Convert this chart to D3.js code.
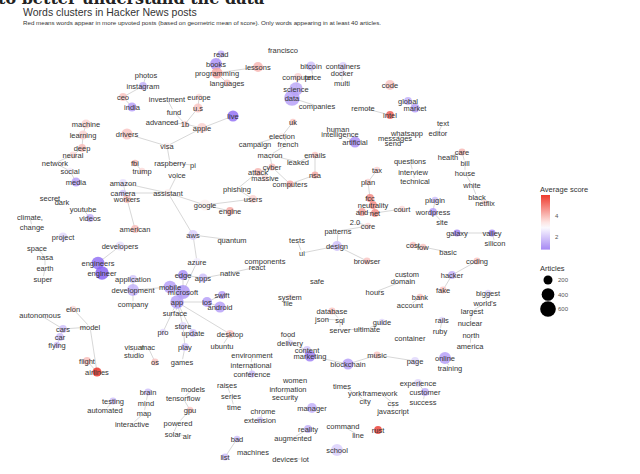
<!DOCTYPE html>
<html>
<head>
<meta charset="utf-8">
<script src="https://cdn.jsdelivr.net/npm/d3@7"></script>
<style>
  body { margin: 0; background: #fff; }
  svg { display: block; }
</style>
</head>
<body>
<div id="chart"></div>
<script>
// Configuration
const width = 640;
const height = 474;

// Word nodes: [word, layout x, layout y, average score, articles]
const nodes = [
  ["read",221,54,2.0,120], ["books",216,64,1.6,350], ["programming",217,73,4.2,300],
  ["lessons",258,67,4.0,250], ["languages",227,83,3.8,120], ["francisco",283,50,3.0,100],
  ["computer",298,77,3.6,150], ["science",296,89,1.9,450], ["data",292,98,1.8,600],
  ["bitcoin",311,66,2.2,200], ["price",313,77,3.0,100], ["containers",343,66,2.4,150],
  ["docker",342,73,2.7,100], ["multi",342,83,3.0,90], ["companies",317,106,3.0,120],
  ["code",390,85,3.8,250], ["remote",363,108,3.0,100], ["intel",390,115,5.2,150],
  ["global",408,101,2.0,150], ["market",415,108,1.8,200], ["uk",293,122,3.8,100],
  ["human",338,129,3.0,100], ["intelligence",340,134,3.0,100], ["artificial",355,142,1.6,300],
  ["whatsapp",407,133,3.0,100], ["messages",395,138,3.0,100], ["send",393,143,3.0,90],
  ["text",443,123,3.0,90], ["editor",438,133,3.0,90],
  ["photos",146,75,3.0,100], ["instagram",143,86,2.0,150], ["ceo",123,97,3.8,150],
  ["india",132,107,1.8,200], ["investment",167,99,3.0,100], ["europe",199,97,3.5,100],
  ["u.s",198,108,3.8,200], ["fund",174,112,3.0,100], ["advanced",162,122,3.0,90],
  ["1b",185,124,3.6,100], ["apple",202,128,3.6,250], ["live",233,116,1.2,300],
  ["drivers",127,134,3.8,300], ["visa",167,146,3.2,100],
  ["machine",86,124,3.6,200], ["learning",83,135,3.6,200], ["deep",82,148,3.9,150],
  ["neural",73,155,3.5,120], ["network",55,163,3.0,100], ["social",70,171,2.8,100],
  ["media",76,182,1.8,200], ["fbi",135,163,4.0,100], ["trump",142,171,3.5,100],
  ["raspberry",170,163,3.0,100], ["pi",193,165,3.0,100], ["voice",177,175,3.0,100],
  ["amazon",123,183,2.6,150], ["camera",123,193,2.3,100], ["workers",127,199,3.9,150],
  ["assistant",168,193,3.2,150], ["google",205,205,3.2,300], ["secret",50,198,3.0,90],
  ["dark",62,202,3.0,90], ["youtube",83,209,3.0,100], ["videos",90,218,2.0,150],
  ["climate,",30,217,3.0,90], ["change",32,227,3.0,90], ["american",135,229,3.9,150],
  ["project",63,237,2.5,200], ["aws",193,235,2.4,250],
  ["election",282,136,3.2,100], ["campaign",255,144,3.0,100], ["french",288,144,3.0,100],
  ["macron",270,155,3.0,100], ["emails",315,155,3.8,100], ["leaked",298,162,3.0,100],
  ["cyber",272,167,3.9,120], ["attack",258,172,4.0,150], ["massive",265,178,3.5,100],
  ["computers",290,184,4.2,120], ["nsa",315,175,4.2,120], ["phishing",237,189,3.0,100],
  ["users",253,199,3.6,150], ["engine",230,211,4.2,150],
  ["tax",377,170,3.6,100], ["plan",368,182,3.6,100], ["fcc",370,198,4.6,150],
  ["neutrality",373,205,4.6,150], ["net",375,213,4.6,150], ["and",362,212,4.3,150],
  ["court",402,209,3.5,100], ["2.0",355,222,3.0,90], ["core",368,226,3.5,100],
  ["patterns",338,231,3.0,100], ["questions",410,161,3.0,100], ["interview",413,172,3.0,100],
  ["technical",415,181,3.0,100], ["plugin",435,200,2.2,100], ["wordpress",433,212,1.8,150],
  ["site",442,222,3.0,100], ["galaxy",457,233,1.5,120], ["valley",492,233,1.5,120],
  ["silicon",495,243,3.0,100], ["health",448,157,3.0,100], ["care",462,152,4.0,120],
  ["bill",465,163,3.0,100], ["house",465,173,3.0,100], ["white",472,185,3.0,100],
  ["black",477,197,3.0,100], ["netflix",485,203,3.5,100],
  ["cost",413,245,3.8,100], ["low",423,247,3.8,100], ["basic",448,252,3.0,100],
  ["coding",477,261,3.8,120], ["custom",407,274,3.0,100], ["domain",403,281,3.0,100],
  ["hacker",452,275,2.0,150], ["fake",443,290,3.8,120], ["bank",420,297,3.8,100],
  ["account",410,305,3.0,100], ["biggest",488,293,2.5,100], ["world's",485,303,3.0,100],
  ["largest",472,311,3.0,100], ["rails",442,320,2.5,100], ["ruby",440,331,3.0,100],
  ["nuclear",470,323,3.0,100], ["north",471,335,3.0,100], ["america",470,346,3.0,100],
  ["container",410,338,3.0,100], ["online",445,358,1.8,350], ["training",450,368,3.0,100],
  ["hours",375,292,3.0,100], ["guide",382,322,2.5,100], ["ultimate",367,329,3.0,100],
  ["page",415,361,2.5,150], ["music",377,355,3.8,120], ["experience",418,383,2.5,150],
  ["customer",425,392,2.0,150], ["success",423,402,3.0,100],
  ["space",37,248,3.0,90], ["nasa",45,257,3.0,90], ["earth",45,268,3.0,90],
  ["super",43,279,3.0,90], ["developers",120,246,2.6,200], ["engineers",98,263,1.2,400],
  ["engineer",102,273,1.0,450], ["application",133,279,2.3,150], ["development",133,290,2.0,350],
  ["company",133,304,3.0,100], ["mobile",170,287,1.8,400], ["microsoft",183,292,1.7,500],
  ["edge",183,275,1.6,250], ["apps",203,278,2.2,200], ["azure",197,262,2.8,150],
  ["app",177,302,1.8,450], ["surface",175,313,3.0,100], ["elon",73,309,3.5,100],
  ["autonomous",40,315,3.0,100], ["model",90,327,3.0,100], ["cars",63,329,2.2,150],
  ["car",60,337,2.2,150], ["flying",57,345,2.2,100], ["pro",163,332,2.5,100],
  ["store",183,326,2.5,150], ["update",193,333,2.3,150], ["play",185,347,2.3,150],
  ["ios",207,302,1.8,250], ["swift",222,295,1.8,150], ["android",220,307,1.8,300],
  ["native",230,273,3.0,100], ["quantum",232,240,3.0,100], ["visual",134,347,3.0,100],
  ["mac",148,347,3.0,100], ["studio",134,355,3.0,100], ["os",155,362,3.8,120],
  ["games",182,362,3.0,100], ["desktop",230,334,3.8,150], ["ubuntu",222,346,3.0,100],
  ["flight",87,361,3.9,150], ["airlines",97,372,5.8,200],
  ["tests",297,240,3.0,100], ["ui",302,253,3.0,100], ["design",337,246,2.2,250],
  ["browser",367,261,3.8,120], ["components",265,261,3.0,100], ["react",257,267,3.0,100],
  ["safe",317,281,3.0,100], ["system",290,297,3.3,100], ["file",288,303,3.0,100],
  ["database",332,311,3.8,120], ["json",322,319,3.0,100], ["sql",340,320,3.0,100],
  ["server",340,330,3.0,100], ["food",288,334,3.0,100], ["delivery",290,343,2.5,100],
  ["content",307,350,2.3,150], ["marketing",310,356,1.4,300], ["blockchain",348,364,1.8,300],
  ["environment",252,355,3.0,100], ["international",251,365,3.0,100], ["conference",252,374,2.2,120],
  ["raises",227,385,3.0,100], ["series",231,396,3.0,100], ["time",234,407,3.0,100],
  ["brain",148,392,2.2,120], ["mind",146,403,3.0,100], ["map",144,413,3.0,100],
  ["interactive",132,424,3.0,100], ["testing",113,401,2.2,120], ["automated",105,410,3.0,100],
  ["models",193,389,3.0,100], ["tensorflow",183,398,3.0,100], ["gpu",190,410,3.8,100],
  ["powered",178,423,3.0,100], ["solar",173,434,3.0,100], ["air",187,436,3.0,100],
  ["bad",237,439,2.2,100], ["list",225,457,2.2,120], ["machines",253,452,3.0,100],
  ["women",295,380,3.0,100], ["information",288,389,3.0,100], ["security",285,397,3.0,100],
  ["chrome",263,411,3.0,100], ["extension",260,420,2.3,100], ["manager",312,408,2.0,250],
  ["times",342,386,3.0,100], ["york",355,393,3.0,100], ["framework",380,393,3.0,100],
  ["city",365,401,3.0,100], ["css",393,403,3.0,100], ["javascript",393,411,3.0,100],
  ["command",343,426,3.0,100], ["line",358,435,3.0,100], ["rust",378,430,5.6,150],
  ["reality",308,429,2.0,150], ["augmented",293,438,3.0,100], ["school",337,450,2.4,350],
  ["devices",285,459,3.0,100], ["iot",305,459,3.0,100]
];

// Co-occurrence links between words
const links = [
  ["read","books"],["books","programming"],["programming","lessons"],["programming","languages"],
  ["computer","science"],["science","data"],["data","companies"],["bitcoin","price"],
  ["containers","docker"],["docker","multi"],["remote","intel"],["global","market"],
  ["human","intelligence"],["intelligence","artificial"],["whatsapp","messages"],["messages","send"],
  ["text","editor"],["photos","instagram"],["instagram","ceo"],["ceo","india"],
  ["investment","fund"],["europe","u.s"],["u.s","1b"],["fund","1b"],["advanced","1b"],
  ["1b","apple"],["apple","live"],["apple","visa"],["drivers","visa"],
  ["machine","learning"],["learning","deep"],["deep","neural"],["neural","network"],
  ["network","social"],["social","media"],["fbi","trump"],["raspberry","pi"],
  ["voice","assistant"],["amazon","assistant"],["camera","assistant"],["workers","american"],
  ["amazon","workers"],["assistant","google"],["google","engine"],["google","users"],
  ["assistant","aws"],["visa","raspberry"],["secret","dark"],["youtube","videos"],
  ["climate,","change"],["space","nasa"],["nasa","earth"],["earth","super"],
  ["uk","election"],["election","campaign"],["election","french"],["french","macron"],
  ["macron","cyber"],["cyber","attack"],["attack","massive"],["leaked","emails"],
  ["macron","leaked"],["nsa","computers"],["cyber","computers"],["emails","nsa"],
  ["phishing","users"],["attack","phishing"],
  ["tax","plan"],["plan","fcc"],["fcc","neutrality"],["neutrality","net"],["and","net"],
  ["net","court"],["2.0","core"],["core","patterns"],["questions","interview"],
  ["interview","technical"],["plugin","wordpress"],["wordpress","site"],["galaxy","valley"],
  ["valley","silicon"],["health","care"],["care","bill"],["bill","house"],["house","white"],
  ["white","black"],["black","netflix"],["cost","low"],["low","basic"],["custom","domain"],
  ["bank","account"],["hacker","fake"],["hacker","coding"],["biggest","world's"],
  ["world's","largest"],["rails","ruby"],["largest","nuclear"],["north","america"],
  ["online","training"],["ultimate","guide"],["hours","domain"],
  ["developers","engineers"],["engineers","engineer"],["application","development"],
  ["development","mobile"],["mobile","microsoft"],["microsoft","edge"],["edge","apps"],
  ["microsoft","app"],["development","company"],["microsoft","surface"],["microsoft","azure"],
  ["azure","aws"],["aws","quantum"],["app","store"],["app","pro"],["app","update"],
  ["app","ios"],["ios","swift"],["ios","android"],["app","desktop"],["store","play"],
  ["apps","native"],["native","react"],["react","components"],
  ["elon","model"],["model","cars"],["cars","car"],["car","flying"],["autonomous","cars"],
  ["flight","airlines"],["model","airlines"],["visual","studio"],["mac","os"],["play","games"],
  ["desktop","ubuntu"],["tests","ui"],["ui","design"],["design","browser"],["design","patterns"],
  ["system","file"],["database","sql"],["json","sql"],["sql","server"],["server","ultimate"],
  ["food","delivery"],["delivery","content"],["content","marketing"],["marketing","blockchain"],
  ["music","blockchain"],["environment","international"],["international","conference"],
  ["raises","series"],["series","time"],["brain","mind"],["mind","map"],["map","interactive"],
  ["testing","automated"],["models","tensorflow"],["tensorflow","gpu"],["gpu","powered"],
  ["powered","solar"],["solar","air"],["bad","list"],["information","security"],
  ["chrome","extension"],["times","york"],["york","city"],["framework","css"],
  ["css","javascript"],["command","line"],["reality","augmented"],["devices","iot"],
  ["experience","customer"],["customer","success"],["page","music"]
];

// Legend values
const scoreTicks = [2, 4];
const scoreRange = [0.8, 6];
const articleTicks = [200, 400, 600];

// Scales
const x = d3.scaleLinear([0, 640], [0, 640]);
const y = d3.scaleLinear([0, 474], [0, 474]);
const color = d3.scaleLinear()
  .domain([0.5, 3, 6])
  .range(["#6a3cf0", "#ffffff", "#e8271d"])
  .interpolate(d3.interpolateRgb)
  .clamp(true);
const r = d3.scaleSqrt([0, 600], [0, 7.8]);

const byName = new Map(nodes.map(d => [d[0], d]));

const svg = d3.select("#chart").append("svg")
  .attr("width", width)
  .attr("height", height)
  .attr("viewBox", [0, 0, width, height])
  .style("font-family", "'Liberation Sans', Arial, sans-serif");

// Titles (first line is cut off at the top of the picture)
svg.append("text")
  .attr("x", -2).attr("y", 4)
  .style("font", "bold 16px 'DejaVu Serif', Georgia, serif")
  .attr("fill", "#222")
  .text("to better understand the data");

svg.append("text")
  .attr("x", 23).attr("y", 16)
  .attr("font-size", 10.5)
  .attr("fill", "#333")
  .text("Words clusters in Hacker News posts");

svg.append("text")
  .attr("x", 23).attr("y", 25)
  .attr("font-size", 6.2)
  .attr("fill", "#333")
  .text("Red means words appear in more upvoted posts (based on geometric mean of score). Only words appearing in at least 40 articles.");

// Edges
svg.append("g")
  .attr("stroke", "#aaa")
  .attr("stroke-opacity", 0.6)
  .attr("stroke-width", 0.8)
  .selectAll("line")
  .data(links.filter(([a, b]) => byName.has(a) && byName.has(b)))
  .join("line")
    .attr("x1", d => x(byName.get(d[0])[1]))
    .attr("y1", d => y(byName.get(d[0])[2]))
    .attr("x2", d => x(byName.get(d[1])[1]))
    .attr("y2", d => y(byName.get(d[1])[2]));

// Nodes
svg.append("g")
  .attr("fill-opacity", 0.85)
  .selectAll("circle")
  .data(nodes)
  .join("circle")
    .attr("cx", d => x(d[1]))
    .attr("cy", d => y(d[2]))
    .attr("r", d => r(d[4]))
    .attr("fill", d => color(d[3]));

// Labels (group opacity keeps the text grey instead of colour-fringed)
svg.append("g")
  .attr("font-size", 7.5)
  .attr("fill", "#333")
  .attr("opacity", 0.99)
  .attr("text-anchor", "middle")
  .selectAll("text")
  .data(nodes)
  .join("text")
    .attr("x", d => x(d[1]))
    .attr("y", d => y(d[2]))
    .attr("dy", "0.35em")
    .text(d => d[0]);

// Colour legend
const legend = svg.append("g");
legend.append("text")
  .attr("x", 540).attr("y", 192)
  .attr("font-size", 7.5)
  .attr("fill", "#333")
  .text("Average score");

const ly = d3.scaleLinear([2, 4], [237, 216]);
const legendColor = d3.scaleLinear()
  .domain([0.5, 3, 6])
  .range(["#9a78f2", "#ffffff", "#ee3a2c"]);
const grad = svg.append("defs").append("linearGradient")
  .attr("id", "scoregrad")
  .attr("x1", 0).attr("y1", 1).attr("x2", 0).attr("y2", 0);
d3.range(0, 1.0001, 0.1).forEach(t => {
  const v = scoreRange[0] + t * (scoreRange[1] - scoreRange[0]);
  grad.append("stop").attr("offset", t).attr("stop-color", legendColor(v));
});
legend.append("rect")
  .attr("x", 541).attr("width", 9)
  .attr("y", ly(scoreRange[1]))
  .attr("height", ly(scoreRange[0]) - ly(scoreRange[1]))
  .attr("fill", "url(#scoregrad)");
legend.selectAll(".stick")
  .data(scoreTicks)
  .join("text")
    .attr("x", 555).attr("y", d => ly(d))
    .attr("dy", "0.35em")
    .attr("font-size", 6)
    .attr("fill", "#555")
    .text(d => d);

// Size legend
legend.append("text")
  .attr("x", 540).attr("y", 271)
  .attr("font-size", 7.5)
  .attr("fill", "#333")
  .text("Articles");
const sy = d3.scalePoint(articleTicks, [280, 309]);
legend.selectAll("circle")
  .data(articleTicks)
  .join("circle")
    .attr("cx", 548).attr("cy", d => sy(d))
    .attr("r", d => r(d))
    .attr("fill", "#000");
legend.selectAll(".atick")
  .data(articleTicks)
  .join("text")
    .attr("x", 558).attr("y", d => sy(d))
    .attr("dy", "0.35em")
    .attr("font-size", 6)
    .attr("fill", "#555")
    .text(d => d);
</script>
</body>
</html>
